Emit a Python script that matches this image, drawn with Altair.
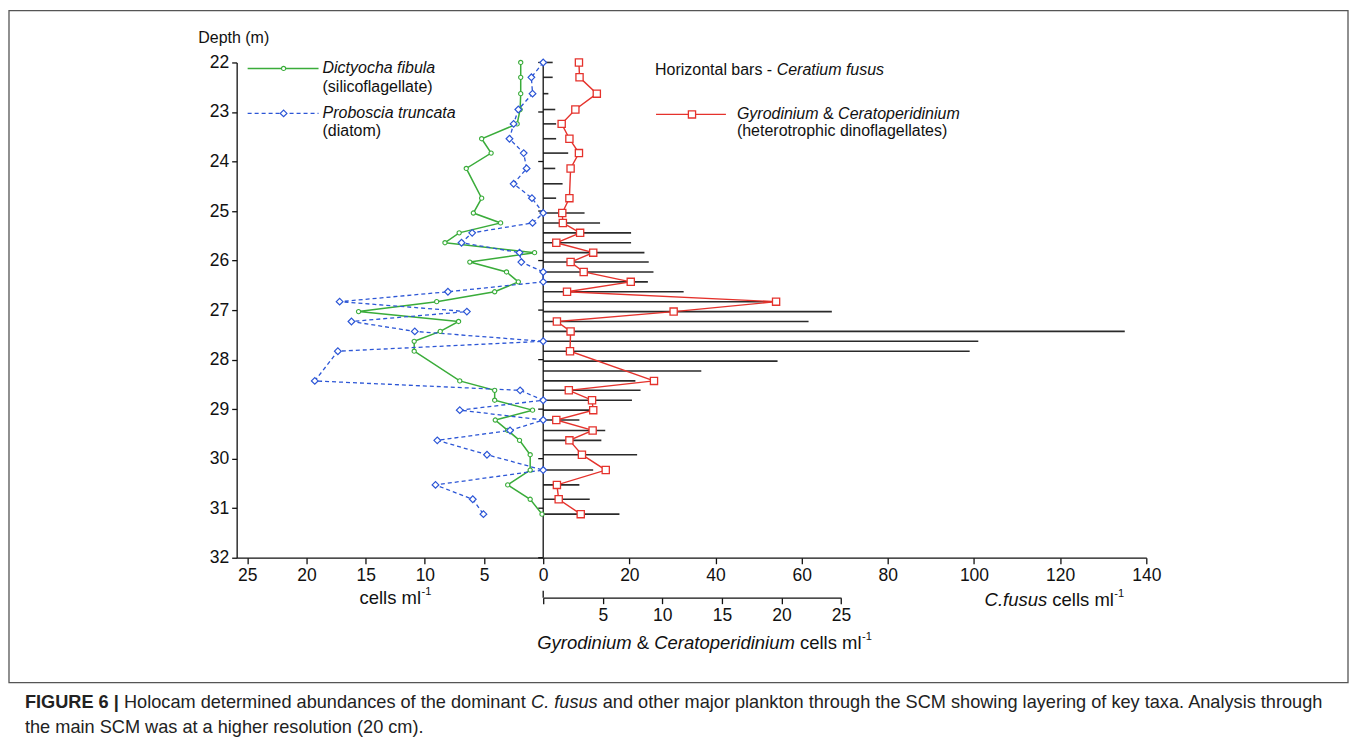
import altair as alt
import pandas as pd

# ---------------- data ----------------
depth = [22.0, 22.3, 22.63, 22.95, 23.24, 23.54, 23.83, 24.14, 24.45, 24.74,
         25.04, 25.24, 25.44, 25.64, 25.84, 26.03, 26.23, 26.43, 26.63, 26.83,
         27.03, 27.23, 27.43, 27.63, 27.83, 28.03, 28.23, 28.43, 28.62, 28.82,
         29.02, 29.22, 29.43, 29.63, 29.92, 30.23, 30.53, 30.82, 31.12]
c_fusus = [2.2, 2.2, 1.2, 2.8, 3.0, 3.0, 5.8, 2.8, 4.5, 3.0,
           9.6, 13.2, 20.4, 20.4, 23.5, 24.5, 25.6, 24.3, 32.6, 53.0,
           67.0, 61.6, 135.0, 101.0, 99.0, 54.4, 36.7, 21.4, 22.6, 20.6,
           11.0, 8.4, 14.4, 13.5, 21.8, 11.6, 8.4, 10.8, 17.7]
gyro = [3.0, 3.05, 4.5, 2.7, 1.55, 2.2, 3.0, 2.3, None, 2.2,
        1.6, 1.65, 3.1, 1.1, 4.2, 2.3, 3.4, 7.35, 2.0, 19.55,
        10.95, 1.15, 2.3, None, 2.25, None, None, 9.3, 2.15, 4.1,
        4.2, 1.1, 4.15, 2.2, 3.25, 5.25, 1.15, 1.3, 3.15]
dictyocha = [1.9, 1.9, 1.9, 1.95, 2.2, 5.2, 4.4, 6.5, None, 5.2,
             5.9, 3.6, 7.1, 8.3, 0.73, 6.2, 3.1, 2.1, 4.1, 9.0,
             15.6, 7.15, 8.7, 10.9, 10.9, None, None, 7.05, 4.1, 4.1,
             0.9, 4.05, 3.0, 2.0, 1.1, 1.1, 3.0, 1.1, 0.1]
proboscia = [0.0, 1.0, 0.9, 2.1, 2.5, 2.85, 1.65, 1.4, 2.5, 0.95,
             0.0, 0.9, 6.0, 6.9, 2.0, 1.85, 0.0, 0.0, 8.05, 17.2,
             6.45, 16.2, 10.85, 0.0, 17.35, None, None, 19.3, 1.95, 0.0,
             7.05, 0.0, 2.8, 8.95, 4.75, 0.0, 9.1, 5.95, 5.05]

depth_ticks = list(range(22, 33))
left_ticks = [0, 5, 10, 15, 20, 25]
cf_ticks = [20, 40, 60, 80, 100, 120, 140]
gy_ticks = [0, 5, 10, 15, 20, 25]

df = pd.DataFrame({"depth": depth, "c_fusus": c_fusus, "gyro": gyro,
                   "dictyocha": dictyocha, "proboscia": proboscia})
df_cf = df[["depth", "c_fusus"]].assign(zero=0.0)
df_gy = df[["depth", "gyro"]].dropna()
df_di = df[["depth", "dictyocha"]].dropna()
df_pr = df[["depth", "proboscia"]].dropna()
df_ticks = pd.DataFrame({"tick": depth_ticks})
one = pd.DataFrame({"k": [0]})

# ---------------- style ----------------
FONT = "Liberation Sans"
GREEN = "#3aac3a"
BLUE = "#2c56d6"
RED = "#e5322c"
BARC = "#2a2a2a"
AXC = "#111111"
W, H = 911, 496
LEFT_PX = 307

REG = {' ': 278, '!': 278, '&': 667, '(': 333, ')': 333, ',': 278, '-': 333,
       '.': 278, '|': 260, 'A': 667, 'B': 667, 'C': 722, 'D': 722, 'E': 667,
       'F': 611, 'G': 778, 'H': 722, 'I': 278, 'J': 500, 'K': 667, 'L': 556,
       'M': 833, 'N': 722, 'O': 778, 'P': 667, 'Q': 778, 'R': 722, 'S': 667,
       'T': 611, 'U': 722, 'V': 667, 'W': 944, 'X': 667, 'Y': 667, 'Z': 611,
       'a': 556, 'b': 556, 'c': 500, 'd': 556, 'e': 556, 'f': 278, 'g': 556,
       'h': 556, 'i': 222, 'j': 222, 'k': 500, 'l': 222, 'm': 833, 'n': 556,
       'o': 556, 'p': 556, 'q': 556, 'r': 333, 's': 500, 't': 278, 'u': 556,
       'v': 500, 'w': 722, 'x': 500, 'y': 500, 'z': 500}
BOLD = {' ': 278, '|': 280, 'F': 611, 'I': 278, 'G': 778, 'U': 722, 'R': 722,
        'E': 667}


def tw(s, size, bold=False):
    tbl = BOLD if bold else REG
    return sum(tbl.get(ch, REG.get(ch, 556)) for ch in s) * size / 1000.0


def txt(s, x, y, size, style="normal", weight="normal", color=AXC):
    return alt.Chart(one).mark_text(
        text=s, font=FONT, fontSize=size, fontStyle=style, fontWeight=weight,
        color=color, align="left", baseline="middle"
    ).encode(x=alt.value(x), y=alt.value(y))


def rich(parts, x, y, size, color=AXC):
    out = []
    cx = x
    for s, st in parts:
        if st == "sup":
            fs = size * 0.6
            out.append(txt(s, cx + 0.5, y - size * 0.32, fs, color=color))
            cx += tw(s, fs)
            continue
        bold = st == "b"
        lead = len(s) - len(s.lstrip(" "))
        core = s.strip(" ")
        if core:
            out.append(txt(core, cx + tw(" " * lead, size, bold), y, size,
                           style="italic" if st == "i" else "normal",
                           weight="bold" if bold else "normal", color=color))
        cx += tw(s, size, bold)
    return out


# ---------------- scales & axes ----------------
y_scale = alt.Scale(domain=[22, 32], reverse=True, nice=False, zero=False)
left_scale = alt.Scale(domain=[0, 25.9], range=[LEFT_PX, 0], nice=False, zero=False)
cf_scale = alt.Scale(domain=[0, 140], range=[LEFT_PX, W], nice=False, zero=False)
gy_scale = alt.Scale(domain=[0, 25], range=[LEFT_PX, LEFT_PX + 25 * 11.93],
                     nice=False, zero=False)

common_ax = dict(orient="bottom", title=None, tickSize=6, labelPadding=3,
                 labelFontSize=17.5, labelFont=FONT, format="d",
                 domainColor=AXC, tickColor=AXC, labelColor=AXC,
                 domainWidth=1.3, tickWidth=1.3, labelFlush=False,
                 labelOverlap=False, grid=False)
left_axis = alt.Axis(values=left_ticks, **common_ax)
cf_axis = alt.Axis(values=cf_ticks, **common_ax)
gy_axis = alt.Axis(values=gy_ticks, offset=40,
                   labelExpr="datum.value == 0 ? '' : datum.label", **common_ax)

y_axis = alt.Axis(values=depth_ticks, format="d", orient="left", tickSize=5,
                  labelPadding=3, labelFontSize=17.5, labelFont=FONT,
                  title="Depth (m)", titleAngle=0, titleX=-39, titleY=-25,
                  titleAlign="left", titleBaseline="middle", titleFontSize=16,
                  titleFont=FONT, titleFontWeight="normal", domainColor=AXC,
                  tickColor=AXC, labelColor=AXC, titleColor=AXC,
                  domainWidth=1.3, tickWidth=1.3, grid=False)

Yd = alt.Y("depth:Q", scale=y_scale, axis=y_axis)

layers = []

# frame around figure
layers.append(alt.Chart(one).mark_rect(fillOpacity=0, stroke="#555555", strokeWidth=1.3).encode(
    x=alt.value(-228), x2=alt.value(1113), y=alt.value(-52), y2=alt.value(621)))

# C. fusus horizontal bars
layers.append(alt.Chart(df_cf).mark_rule(color=BARC, strokeWidth=1.6).encode(
    x=alt.X("zero:Q", scale=cf_scale, axis=cf_axis), x2="c_fusus:Q", y=Yd))

# central zero axis with integer ticks
layers.append(alt.Chart(pd.DataFrame({"a": [22], "b": [32]})).mark_rule(
    color=AXC, strokeWidth=1.3).encode(
    x=alt.value(LEFT_PX), y=alt.Y("a:Q", scale=y_scale, axis=y_axis), y2="b:Q"))
layers.append(alt.Chart(df_ticks).mark_rule(color=AXC, strokeWidth=1.3).encode(
    x=alt.value(LEFT_PX - 5), x2=alt.value(LEFT_PX),
    y=alt.Y("tick:Q", scale=y_scale, axis=y_axis)))
# upward part of the gyro-axis zero tick
layers.append(alt.Chart(one).mark_rule(color=AXC, strokeWidth=1.3).encode(
    x=alt.value(LEFT_PX), y=alt.value(H + 33), y2=alt.value(H + 40)))

# Gyrodinium & Ceratoperidinium
layers.append(alt.Chart(df_gy).mark_line(color=RED, strokeWidth=1.4).encode(
    x=alt.X("gyro:Q", scale=gy_scale, axis=gy_axis), y=Yd, order="depth:Q"))
layers.append(alt.Chart(df_gy).mark_point(shape="square", filled=True, fill="white",
                                          stroke=RED, strokeWidth=1.3, size=52, opacity=1).encode(
    x=alt.X("gyro:Q", scale=gy_scale, axis=None), y=Yd))

# Dictyocha fibula & Proboscia truncata
layers.append(alt.Chart(df_di).mark_line(color=GREEN, strokeWidth=1.5).encode(
    x=alt.X("dictyocha:Q", scale=left_scale, axis=left_axis), y=Yd, order="depth:Q"))
layers.append(alt.Chart(df_pr).mark_line(color=BLUE, strokeWidth=1.3, strokeDash=[4, 3]).encode(
    x=alt.X("proboscia:Q", scale=left_scale, axis=None), y=Yd, order="depth:Q"))
layers.append(alt.Chart(df_di).mark_point(shape="circle", filled=True, fill="white",
                                          stroke=GREEN, strokeWidth=1.1, size=18, opacity=1).encode(
    x=alt.X("dictyocha:Q", scale=left_scale, axis=None), y=Yd))
layers.append(alt.Chart(df_pr).mark_point(shape="diamond", filled=True, fill="white",
                                          stroke=BLUE, strokeWidth=1.2, size=45, opacity=1).encode(
    x=alt.X("proboscia:Q", scale=left_scale, axis=None), y=Yd))

# ---------------- legends ----------------
layers.append(alt.Chart(one).mark_rule(color=GREEN, strokeWidth=1.5).encode(
    x=alt.value(11), x2=alt.value(82), y=alt.value(6)))
layers.append(alt.Chart(one).mark_point(shape="circle", filled=True, fill="white",
                                        stroke=GREEN, strokeWidth=1.1, size=18, opacity=1).encode(
    x=alt.value(47), y=alt.value(6)))
layers.append(alt.Chart(one).mark_rule(color=BLUE, strokeWidth=1.3, strokeDash=[4, 3]).encode(
    x=alt.value(11), x2=alt.value(82), y=alt.value(51)))
layers.append(alt.Chart(one).mark_point(shape="diamond", filled=True, fill="white",
                                        stroke=BLUE, strokeWidth=1.2, size=45, opacity=1).encode(
    x=alt.value(47), y=alt.value(51)))
layers.append(alt.Chart(one).mark_rule(color=RED, strokeWidth=1.4).encode(
    x=alt.value(420), x2=alt.value(490), y=alt.value(52)))
layers.append(alt.Chart(one).mark_point(shape="square", filled=True, fill="white",
                                        stroke=RED, strokeWidth=1.3, size=52, opacity=1).encode(
    x=alt.value(456), y=alt.value(52)))

LG = 16
layers += rich([("Dictyocha fibula", "i")], 86, 6, LG)
layers += rich([("(silicoflagellate)", "n")], 86, 25, LG)
layers += rich([("Proboscia truncata", "i")], 86, 51, LG)
layers += rich([("(diatom)", "n")], 86, 69, LG)
layers += rich([("Horizontal bars - ", "n"), ("Ceratium fusus", "i")], 419, 8, LG)
layers += rich([("Gyrodinium", "i"), (" & ", "n"), ("Ceratoperidinium", "i")], 501, 52, LG)
layers += rich([("(heterotrophic dinoflagellates)", "n")], 501, 69, LG)

# ---------------- axis titles ----------------
TS = 18.5
layers += rich([("cells ml", "n"), ("-1", "sup")], 123, 536, TS)
layers += rich([("C.fusus", "i"), (" cells ml", "n"), ("-1", "sup")], 749, 538, TS)
layers += rich([("Gyrodinium", "i"), (" & ", "n"), ("Ceratoperidinium", "i"),
                (" cells ml", "n"), ("-1", "sup")], 301, 581, TS)

# ---------------- caption ----------------
CS = 18.2
CAPC = "#222222"
layers += rich([("FIGURE 6 |", "b"),
                (" Holocam determined abundances of the dominant ", "n"),
                ("C. fusus", "i"),
                (" and other major plankton through the SCM showing layering of key taxa. Analysis through", "n")],
               -212, 642, CS, color=CAPC)
layers += rich([("the main SCM was at a higher resolution (20 cm).", "n")], -212, 667, CS, color=CAPC)

chart = alt.layer(*layers).resolve_scale(x="independent").properties(
    width=W, height=H, padding={"left": 0, "top": 1, "right": 0, "bottom": 0}
).configure_view(strokeWidth=0).configure_axis(grid=False)

chart.save("out.html", embed_options={"renderer": "svg", "actions": False})
